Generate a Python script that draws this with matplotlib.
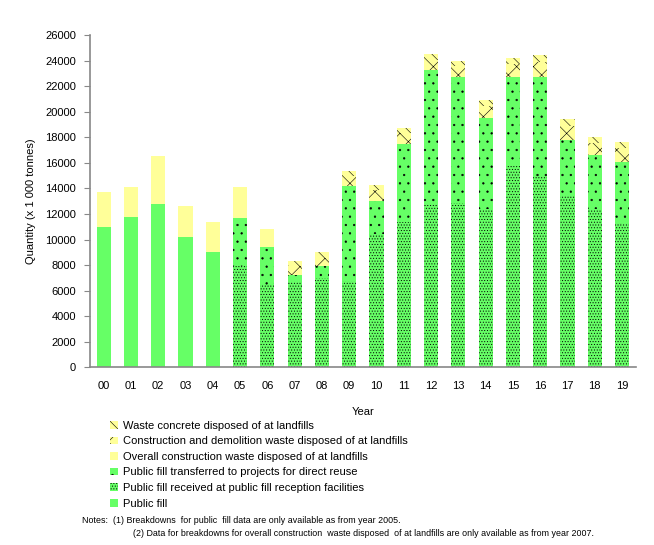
import matplotlib as mpl
import matplotlib.pyplot as plt
import numpy as np

mpl.rcParams['font.family'] = ['Liberation Sans', 'DejaVu Sans']
mpl.rcParams['hatch.linewidth'] = 0.4

years = ['00', '01', '02', '03', '04', '05', '06', '07', '08', '09',
         '10', '11', '12', '13', '14', '15', '16', '17', '18', '19']

# thousand tonnes
public_fill = [11000, 11800, 12800, 10200, 9000, 0, 0, 0, 0, 0,
               0, 0, 0, 0, 0, 0, 0, 0, 0, 0]
received = [0, 0, 0, 0, 0, 7900, 6450, 6700, 7000, 6800,
            10400, 11400, 12800, 12900, 12400, 15800, 14900, 13400, 12400, 11200]
transferred = [0, 0, 0, 0, 0, 3800, 2950, 500, 900, 7400,
               2600, 6100, 10500, 9800, 7100, 6900, 7800, 4400, 4200, 4900]
overall_cw = [2700, 2300, 3700, 2400, 2400, 2400, 1400, 0, 0, 0,
              0, 0, 0, 0, 0, 0, 0, 0, 0, 0]
cd_waste = [0, 0, 0, 0, 0, 0, 0, 700, 700, 750,
            850, 800, 750, 900, 950, 1050, 1200, 1100, 950, 1050]
concrete = [0, 0, 0, 0, 0, 0, 0, 400, 400, 450,
            450, 400, 450, 400, 450, 450, 500, 500, 450, 450]

green = '#66FF66'
yellow = '#FFFF99'

fig = plt.figure(figsize=(6.54, 5.45), dpi=100)
ax = fig.add_axes([0.1376, 0.3257, 0.8344, 0.6101])

x = np.arange(len(years))
w = 0.52
series = [
    (public_fill, green, None, 'Public fill'),
    (received, green, '......', 'Public fill received at public fill reception facilities'),
    (transferred, green, '..', 'Public fill transferred to projects for direct reuse'),
    (overall_cw, yellow, None, 'Overall construction waste disposed of at landfills'),
    (cd_waste, yellow, 'xx', 'Construction and demolition waste disposed of at landfills'),
    (concrete, yellow, '\\\\\\', 'Waste concrete disposed of at landfills'),
]
bottom = np.zeros(len(years))
handles = []
for vals, col, hatch, lab in series:
    v = np.array(vals, dtype=float)
    b = ax.bar(x, v, w, bottom=bottom, color=col, hatch=hatch,
               edgecolor='black', linewidth=0, label=lab)
    handles.append(b)
    bottom += v

ax.set_xlim(-0.5, len(years) - 0.5)
ax.set_ylim(0, 26000)
ax.set_yticks(range(0, 26001, 2000))
ax.set_xticks(x)
ax.set_xticklabels(years)
ax.tick_params(axis='y', labelsize=8, length=4, color='#888888', pad=6)
ax.tick_params(axis='x', labelsize=8, length=0, pad=10)
for s in ['top', 'right']:
    ax.spines[s].set_visible(False)
for s in ['left', 'bottom']:
    ax.spines[s].set_color('#888888')
    ax.spines[s].set_linewidth(1.2)

ax.set_xlabel('Year', fontsize=8, labelpad=11)
ax.set_ylabel('Quantity (x 1 000 tonnes)', fontsize=8, labelpad=7)

fig.legend(handles[::-1], [h.get_label() for h in handles[::-1]],
           loc='upper left', bbox_to_anchor=(0.162, 0.236), frameon=False,
           fontsize=8, handlelength=0.7, handleheight=0.7, handletextpad=0.4,
           labelspacing=0.5, borderaxespad=0)

fig.text(0.125, 0.041, 'Notes:  (1) Breakdowns  for public  fill data are only available as from year 2005.',
         fontsize=6.4)
fig.text(0.203, 0.017, '(2) Data for breakdowns for overall construction  waste disposed  of at landfills are only available as from year 2007.',
         fontsize=6.4)

plt.savefig('out.png', dpi=100)
